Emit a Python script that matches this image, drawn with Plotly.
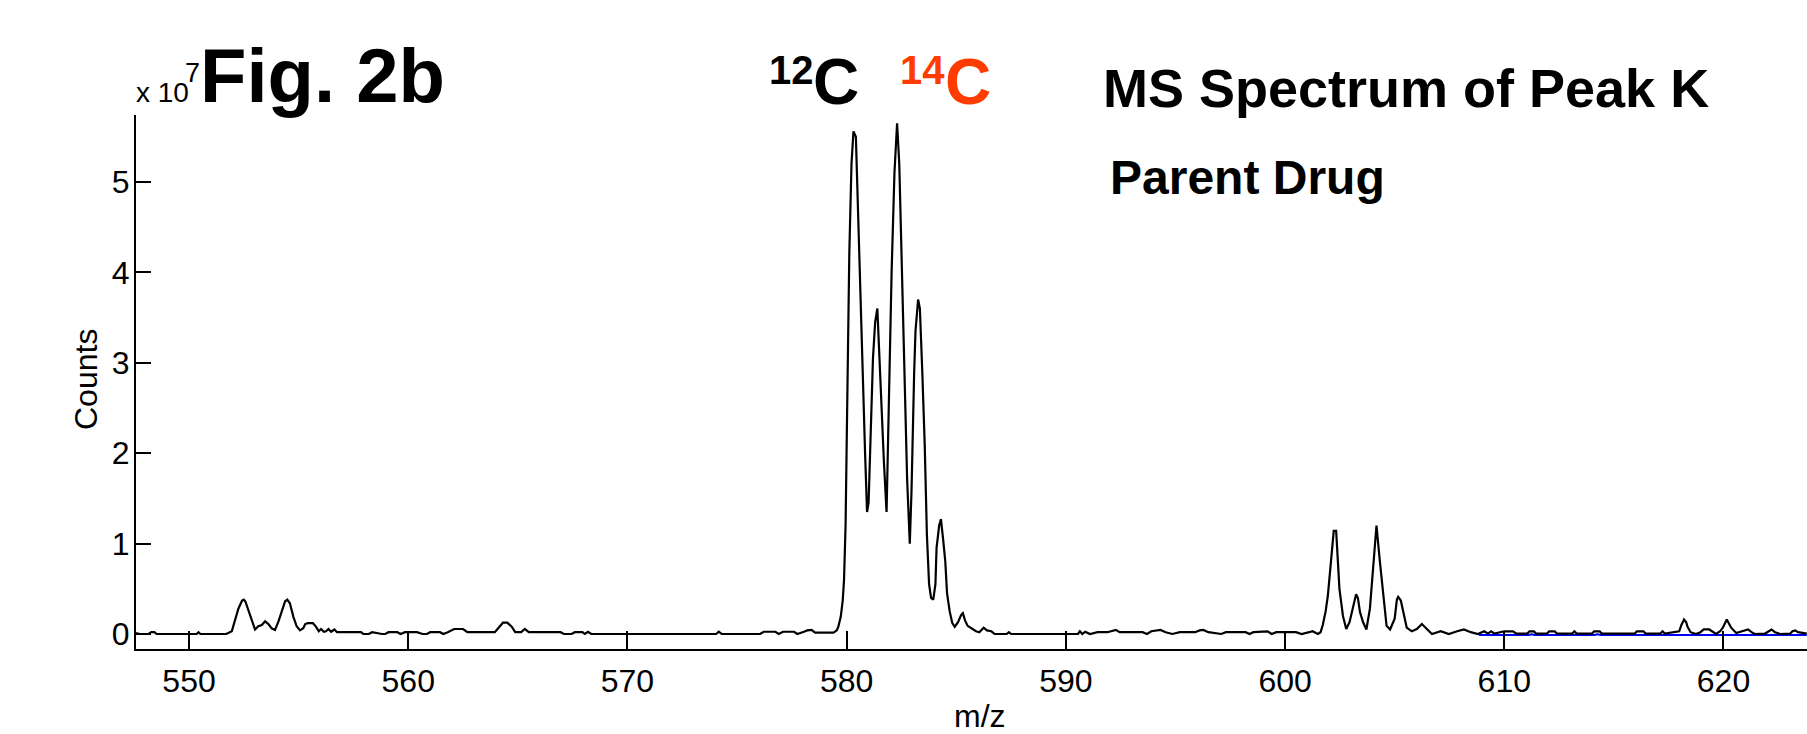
import plotly.graph_objects as go

# ---------------- data (counts in units of 1e7) ----------------
mz = [547.58, 547.75, 548.15, 548.28, 548.42, 548.52, 550.35, 550.43, 550.52, 551.70,
      551.95, 552.10, 552.25, 552.42, 552.50, 552.57, 552.70, 552.86, 553.01, 553.16,
      553.32, 553.47, 553.62, 553.77, 553.92, 554.08, 554.23, 554.38, 554.48, 554.60,
      554.76, 554.91, 555.06, 555.21, 555.30, 555.42, 555.65, 555.78, 555.92, 556.02,
      556.15, 556.25, 556.36, 556.48, 556.63, 556.75, 557.85, 557.95, 558.20, 558.35,
      558.80, 558.95, 559.10, 559.50, 559.65, 559.85, 560.40, 560.65, 560.85, 561.00,
      561.45, 561.60, 561.80, 562.10, 562.50, 562.70, 563.95, 564.15, 564.32, 564.52,
      564.72, 564.88, 565.15, 565.32, 565.50, 566.95, 567.10, 567.45, 567.60, 567.95,
      568.05, 568.20, 568.35, 574.05, 574.16, 574.30, 576.05, 576.22, 576.75, 576.90,
      577.10, 577.60, 577.75, 578.05, 578.20, 578.40, 578.56, 579.40, 579.55, 579.62,
      579.73, 579.82, 579.88, 579.95, 580.02, 580.12, 580.22, 580.31, 580.42, 580.48,
      580.60, 580.72, 580.84, 580.93, 581.00, 581.10, 581.20, 581.30, 581.40, 581.47,
      581.58, 581.70, 581.82, 581.92, 582.05, 582.18, 582.30, 582.40, 582.52, 582.64,
      582.76, 582.88, 582.96, 583.08, 583.14, 583.26, 583.34, 583.45, 583.56, 583.66,
      583.76, 583.85, 583.95, 584.05, 584.10, 584.22, 584.30, 584.40, 584.50, 584.58,
      584.70, 584.82, 584.93, 585.08, 585.22, 585.30, 585.40, 585.52, 585.70, 585.90,
      586.05, 586.25, 586.40, 586.60, 586.75, 587.30, 587.40, 587.50, 590.55, 590.64,
      590.75, 590.88, 591.10, 591.45, 591.90, 592.05, 592.28, 592.45, 593.50, 593.70,
      593.90, 594.32, 594.55, 594.86, 595.20, 595.90, 596.10, 596.27, 596.50, 597.09,
      597.30, 598.20, 598.38, 598.55, 599.20, 599.39, 599.60, 600.50, 600.75, 601.10,
      601.25, 601.50, 601.62, 601.72, 601.85, 601.95, 602.10, 602.22, 602.33, 602.48,
      602.64, 602.79, 602.94, 603.13, 603.24, 603.32, 603.42, 603.56, 603.71, 603.87,
      604.02, 604.17, 604.33, 604.48, 604.63, 604.79, 605.00, 605.10, 605.16, 605.28,
      605.40, 605.55, 605.78, 606.01, 606.24, 606.47, 606.70, 607.10, 607.47, 607.85,
      608.16, 608.47, 608.80, 609.08, 609.25, 609.40, 609.55, 610.00, 610.40, 610.55,
      611.05, 611.15, 611.35, 611.45, 611.95, 612.05, 612.30, 612.40, 613.10, 613.20,
      613.30, 614.00, 614.10, 614.35, 614.45, 615.95, 616.05, 616.35, 616.45, 617.12,
      617.22, 617.32, 617.98, 618.08, 618.20, 618.30, 618.36, 618.50, 618.74, 618.95,
      619.10, 619.35, 619.55, 619.66, 619.85, 619.97, 620.15, 620.25, 620.35, 620.58,
      620.75, 620.89, 621.12, 621.28, 621.43, 621.90, 622.05, 622.19, 622.35, 622.58,
      623.05, 623.15, 623.27, 623.40, 623.80]

counts_1e7 = [0.01, 0.0, 0.0, 0.02, 0.02, 0.0, 0.0, 0.02, 0.0, 0.0,
              0.03, 0.15, 0.28, 0.37, 0.38, 0.36, 0.27, 0.14, 0.05, 0.085,
              0.10, 0.14, 0.11, 0.063, 0.045, 0.14, 0.25, 0.36, 0.38, 0.34,
              0.19, 0.085, 0.04, 0.063, 0.11, 0.12, 0.12, 0.085, 0.03, 0.055,
              0.025, 0.03, 0.055, 0.025, 0.05, 0.02, 0.02, 0.0, 0.0, 0.02,
              0.0, 0.0, 0.02, 0.02, 0.0, 0.02, 0.02, 0.0, 0.0, 0.02,
              0.02, 0.0, 0.02, 0.055, 0.055, 0.02, 0.02, 0.08, 0.125, 0.125,
              0.08, 0.02, 0.02, 0.055, 0.02, 0.02, 0.0, 0.0, 0.02, 0.02,
              0.0, 0.025, 0.0, 0.0, 0.025, 0.0, 0.0, 0.025, 0.025, 0.0,
              0.025, 0.025, 0.0, 0.025, 0.04, 0.045, 0.015, 0.015, 0.04, 0.08,
              0.19, 0.37, 0.6, 1.2, 2.4, 4.2, 5.2, 5.56, 5.50, 4.95,
              4.0, 3.0, 2.0, 1.35, 1.45, 2.2, 3.05, 3.45, 3.6, 3.2,
              2.55, 1.9, 1.35, 2.5, 4.0, 5.1, 5.65, 5.2, 4.1, 3.0,
              1.7, 1.0, 1.6, 2.9, 3.35, 3.70, 3.6, 2.9, 2.1, 1.1,
              0.55, 0.40, 0.38, 0.55, 0.95, 1.2, 1.27, 1.05, 0.8, 0.45,
              0.25, 0.12, 0.08, 0.13, 0.21, 0.23, 0.15, 0.09, 0.06, 0.03,
              0.02, 0.07, 0.04, 0.03, 0.0, 0.0, 0.02, 0.0, 0.0, 0.03,
              0.0, 0.025, 0.0, 0.02, 0.02, 0.03, 0.045, 0.02, 0.02, 0.0,
              0.03, 0.045, 0.02, 0.0, 0.02, 0.02, 0.04, 0.045, 0.02, 0.0,
              0.02, 0.02, 0.0, 0.02, 0.03, 0.0, 0.02, 0.02, 0.0, 0.02,
              0.03, 0.0, 0.02, 0.1, 0.25, 0.42, 0.79, 1.14, 1.14, 0.5,
              0.2, 0.055, 0.13, 0.35, 0.44, 0.40, 0.24, 0.13, 0.05, 0.28,
              0.79, 1.2, 0.79, 0.42, 0.09, 0.05, 0.17, 0.38, 0.41, 0.37,
              0.24, 0.07, 0.03, 0.055, 0.11, 0.055, 0.0, 0.03, 0.0, 0.03,
              0.05, 0.02, 0.0, 0.03, 0.005, 0.03, 0.005, 0.03, 0.03, 0.005,
              0.005, 0.03, 0.03, 0.005, 0.005, 0.03, 0.03, 0.005, 0.005, 0.03,
              0.005, 0.005, 0.03, 0.03, 0.005, 0.005, 0.03, 0.03, 0.005, 0.005,
              0.03, 0.005, 0.03, 0.10, 0.16, 0.13, 0.08, 0.02, 0.0, 0.02,
              0.05, 0.05, 0.02, 0.0, 0.03, 0.07, 0.16, 0.11, 0.07, 0.01,
              0.02, 0.03, 0.05, 0.02, 0.0, 0.005, 0.03, 0.05, 0.02, 0.0,
              0.005, 0.03, 0.04, 0.02, 0.005]

blue_mz = [608.85, 611.10, 611.25, 611.40, 614.10, 614.25, 614.40, 618.10, 618.40, 619.90, 620.30, 623.80]
blue_counts_1e7 = [-0.012, -0.012, -0.002, -0.012, -0.012, -0.002, -0.012, -0.012, -0.012, -0.012, -0.012, -0.012]

x_ticks = [550, 560, 570, 580, 590, 600, 610, 620]
y_ticks = [0, 1, 2, 3, 4, 5]
y_tick_labels = ["0", "1", "2", "3", "4", "5"]

x_range = [547.58, 623.81]
y_range = [-0.166, 5.741]

# ---------------- figure ----------------
W, H = 1807, 734
L, R, T, B = 136, 0, 115, 85
SANS = "Liberation Sans, Arial, Helvetica, sans-serif"


def P(px, py):
    return (px - L) / (W - L - R), (H - B - py) / (H - T - B)


fig = go.Figure()
fig.add_trace(go.Scatter(x=blue_mz, y=blue_counts_1e7, mode="lines",
                         line=dict(color="rgb(0,0,255)", width=2), hoverinfo="skip"))
fig.add_trace(go.Scatter(x=mz, y=counts_1e7, mode="lines",
                         line=dict(color="black", width=2.2)))

anns = []


def ann(text, px, py, size, color="black", bold=False, xanchor="left", angle=0):
    x, y = P(px, py)
    anns.append(dict(text=text, x=x, y=y, xref="paper", yref="paper", showarrow=False,
                     xanchor=xanchor, yanchor="middle", textangle=angle,
                     font=dict(family=SANS, size=size, color=color,
                               weight="bold" if bold else "normal")))


ann("x 10", 134, 92, 28)
ann("7", 183, 73, 27)
ann("Fig. 2b", 198, 75, 76, bold=True)
ann("12", 767, 70, 40, bold=True)
ann("C", 811, 82, 64, bold=True)
ann("14", 898, 70, 40, bold=True, color="rgb(255,60,0)")
ann("C", 943, 82, 64, bold=True, color="rgb(255,60,0)")
ann("MS Spectrum of Peak K", 1101, 88, 54, bold=True)
ann("Parent Drug", 1108, 178, 48, bold=True)
ann("Counts", 86, 380, 32, xanchor="center", angle=-90)
ann("m/z", 980, 716, 32, xanchor="center")

fig.update_layout(
    width=W, height=H, autosize=False,
    margin=dict(l=L, r=R, t=T, b=B, pad=0),
    paper_bgcolor="white", plot_bgcolor="white",
    showlegend=False,
    annotations=anns,
    xaxis=dict(range=x_range, tickvals=x_ticks, ticks="inside", ticklen=18, tickwidth=2,
               tickcolor="black", showline=True, linecolor="black", linewidth=2,
               showgrid=False, zeroline=False, mirror=False, ticklabelstandoff=3,
               tickfont=dict(family=SANS, size=32, color="black")),
    yaxis=dict(range=y_range, tickvals=y_ticks, ticktext=y_tick_labels, ticks="inside",
               ticklen=15, tickwidth=2, tickcolor="black", showline=True, linecolor="black",
               linewidth=2, showgrid=False, zeroline=False, mirror=False, ticklabelstandoff=-2,
               tickfont=dict(family=SANS, size=32, color="black")),
)

fig.write_html("out.html")
